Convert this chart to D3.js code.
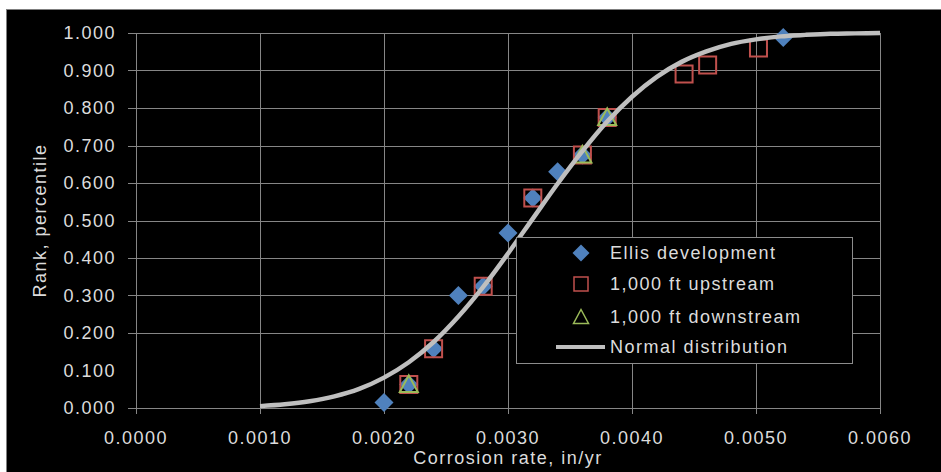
<!DOCTYPE html>
<html>
<head>
<meta charset="utf-8">
<script src="https://cdn.jsdelivr.net/npm/d3@7"></script>
<style>
  html, body { margin: 0; padding: 0; background: #fff; }
  svg { display: block; }
  .lbl { font-family: "Liberation Sans", Arial, sans-serif; fill: #dcdcdc; letter-spacing: 1.5px; }
</style>
</head>
<body>
<script>
// Corrosion rate (in/yr) vs rank percentile, three sites plus fitted normal CDF
const ellisRate = [0.0020, 0.0022, 0.0024, 0.0026, 0.0028, 0.0030, 0.0032, 0.0034, 0.0036, 0.0038, 0.00522];
const ellisRank = [0.015, 0.063, 0.158, 0.300, 0.325, 0.467, 0.560, 0.630, 0.675, 0.775, 0.988];

const upRate = [0.0022, 0.0024, 0.0028, 0.0032, 0.0036, 0.0038, 0.00442, 0.00461, 0.00502];
const upRank = [0.063, 0.158, 0.325, 0.560, 0.675, 0.775, 0.891, 0.915, 0.960];

const downRate = [0.0022, 0.0036, 0.0038];
const downRank = [0.063, 0.675, 0.775];

const normRate = [0.0010, 0.0012, 0.0014, 0.0016, 0.0018, 0.0020, 0.0022, 0.0024, 0.0026, 0.0028, 0.0030,
                  0.0032, 0.0034, 0.0036, 0.0038, 0.0040, 0.0042, 0.0044, 0.0046, 0.0048, 0.0050,
                  0.0052, 0.0054, 0.0056, 0.0058, 0.0060];
const normRank = [0.005, 0.010, 0.018, 0.031, 0.051, 0.081, 0.122, 0.176, 0.244, 0.323, 0.412,
                  0.505, 0.598, 0.685, 0.764, 0.830, 0.883, 0.923, 0.951, 0.971, 0.983,
                  0.991, 0.995, 0.998, 0.999, 1.000];

const xTicks = [0, 0.001, 0.002, 0.003, 0.004, 0.005, 0.006];
const yTicks = [0, 0.1, 0.2, 0.3, 0.4, 0.5, 0.6, 0.7, 0.8, 0.9, 1.0];
// horizontal gridlines drawn (the 0.100 level has none)
const yGrid = [0, 0.2, 0.3, 0.4, 0.5, 0.6, 0.7, 0.8, 0.9, 1.0];

const seriesNames = ["Ellis development", "1,000 ft upstream", "1,000 ft downstream", "Normal distribution"];

const W = 941, H = 472;
const m = { left: 136, right: 61, top: 33, bottom: 64 };

const svg = d3.select("body").append("svg").attr("width", W).attr("height", H);

// page and chart frame
svg.append("rect").attr("x", 0).attr("y", 0).attr("width", W).attr("height", H).attr("fill", "#fff");
svg.append("rect").attr("x", 6.5).attr("y", 9.5).attr("width", W + 10).attr("height", H + 10)
  .attr("fill", "#000").attr("stroke", "#7f7f7f").attr("stroke-width", 1);

const x = d3.scaleLinear().domain([0, 0.006]).range([m.left, W - m.right]);
const y = d3.scaleLinear().domain([0, 1]).range([H - m.bottom, m.top]);

const gridColor = "#868686";

// horizontal gridlines + left tick stubs
svg.append("g").selectAll("line").data(yGrid).join("line")
  .attr("x1", m.left - 8).attr("x2", W - m.right)
  .attr("y1", d => Math.round(y(d)) + 0.5).attr("y2", d => Math.round(y(d)) + 0.5)
  .attr("stroke", gridColor).attr("stroke-width", 1);

// vertical gridlines + bottom tick stubs
svg.append("g").selectAll("line").data(xTicks).join("line")
  .attr("x1", d => Math.round(x(d)) + 0.5).attr("x2", d => Math.round(x(d)) + 0.5)
  .attr("y1", m.top).attr("y2", H - m.bottom + 6)
  .attr("stroke", gridColor).attr("stroke-width", 1);

// tick labels
svg.append("g").selectAll("text").data(yTicks).join("text")
  .attr("class", "lbl")
  .attr("x", m.left - 20).attr("y", d => y(d))
  .attr("dy", "0.35em").attr("text-anchor", "end")
  .attr("font-size", 18)
  .text(d3.format(".3f"));

svg.append("g").selectAll("text").data(xTicks).join("text")
  .attr("class", "lbl")
  .attr("x", d => x(d)).attr("y", H - m.bottom + 30)
  .attr("dy", "0.35em").attr("text-anchor", "middle")
  .attr("font-size", 18)
  .text(d3.format(".4f"));

// axis titles
svg.append("text").attr("class", "lbl")
  .attr("x", (m.left + W - m.right) / 2).attr("y", H - 8)
  .attr("text-anchor", "middle").attr("font-size", 18)
  .text("Corrosion rate, in/yr");

svg.append("text").attr("class", "lbl")
  .attr("transform", `translate(40,${(m.top + H - m.bottom) / 2}) rotate(-90)`)
  .attr("dy", "0.35em")
  .attr("text-anchor", "middle").attr("font-size", 18)
  .text("Rank, percentile");

const blue = "#4f81bd", red = "#c0504d", green = "#9bbb59", curveColor = "#bfbfbf";

const diamond = s => `M0,${-s}L${s},0L0,${s}L${-s},0Z`;
const square = s => `M${-s},${-s}H${s}V${s}H${-s}Z`;
const tri = s => `M0,${-s}L${s},${s * 0.85}L${-s},${s * 0.85}Z`;

// Ellis development
svg.append("g").selectAll("path").data(ellisRate.map((r, i) => [r, ellisRank[i]])).join("path")
  .attr("transform", d => `translate(${x(d[0])},${y(d[1])})`)
  .attr("d", diamond(9.5)).attr("fill", blue);

// 1,000 ft upstream
svg.append("g").selectAll("path").data(upRate.map((r, i) => [r, upRank[i]])).join("path")
  .attr("transform", d => `translate(${x(d[0])},${y(d[1])})`)
  .attr("d", square(8.5)).attr("fill", "none").attr("stroke", red).attr("stroke-width", 2);

// 1,000 ft downstream
svg.append("g").selectAll("path").data(downRate.map((r, i) => [r, downRank[i]])).join("path")
  .attr("transform", d => `translate(${x(d[0])},${y(d[1])})`)
  .attr("d", tri(9)).attr("fill", "none").attr("stroke", green).attr("stroke-width", 2);

// fitted normal distribution
const line = d3.line().x(d => x(d[0])).y(d => y(d[1])).curve(d3.curveMonotoneX);
svg.append("path").datum(normRate.map((r, i) => [r, normRank[i]]))
  .attr("d", line).attr("fill", "none").attr("stroke", curveColor).attr("stroke-width", 4.5);

// legend
const lg = svg.append("g").attr("transform", "translate(516,237)");
lg.append("rect").attr("x", 0.5).attr("y", 0.5).attr("width", 336).attr("height", 126)
  .attr("fill", "#000").attr("stroke", "#8c8c8c").attr("stroke-width", 1);
const rowsY = [16, 47, 80, 110];
const mx = 65;
lg.append("path").attr("transform", `translate(${mx},${rowsY[0]})`).attr("d", diamond(8.5)).attr("fill", blue);
lg.append("path").attr("transform", `translate(${mx},${rowsY[1]})`).attr("d", square(7)).attr("fill", "none").attr("stroke", red).attr("stroke-width", 1.5);
lg.append("path").attr("transform", `translate(${mx},${rowsY[2]})`).attr("d", tri(7.5)).attr("fill", "none").attr("stroke", green).attr("stroke-width", 1.5);
lg.append("line").attr("x1", 40).attr("x2", 89).attr("y1", rowsY[3]).attr("y2", rowsY[3])
  .attr("stroke", curveColor).attr("stroke-width", 4);
lg.selectAll("text.legtext").data(seriesNames).join("text")
  .attr("class", "lbl legtext")
  .attr("x", 94).attr("y", (d, i) => rowsY[i]).attr("dy", "0.35em")
  .attr("font-size", 18).text(d => d);
</script>
</body>
</html>
